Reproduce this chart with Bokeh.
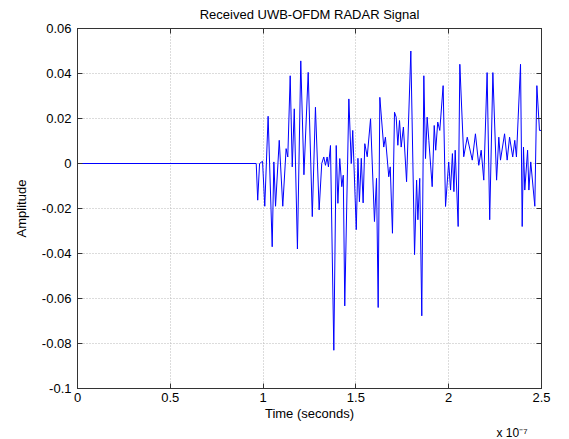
from bokeh.plotting import figure
from bokeh.models import (Range1d, FixedTicker, LinearAxis, Title,
                          CustomJSTickFormatter)
from bokeh.embed import file_html
from bokeh.resources import INLINE

# ---- data (time in units of 1e-7 s, amplitude) ----
time_e7 = [0.0, 0.963, 0.971, 0.981, 0.997, 1.009, 1.027, 1.049, 1.058, 1.067,
           1.087, 1.106, 1.124, 1.133, 1.146, 1.157, 1.168, 1.185, 1.203, 1.220,
           1.243, 1.265, 1.282, 1.302, 1.316, 1.327, 1.336, 1.345, 1.352, 1.363,
           1.381, 1.394, 1.403, 1.413, 1.424, 1.432, 1.440, 1.462, 1.475, 1.483,
           1.502, 1.511, 1.519, 1.529, 1.539, 1.548, 1.561, 1.579, 1.600, 1.611,
           1.620, 1.629, 1.650, 1.659, 1.677, 1.685, 1.697, 1.708, 1.717, 1.726,
           1.735, 1.744, 1.756, 1.773, 1.796, 1.816, 1.827, 1.834, 1.844, 1.855,
           1.866, 1.875, 1.884, 1.893, 1.911, 1.922, 1.930, 1.941, 1.952, 1.970,
           1.983, 2.000, 2.010, 2.020, 2.028, 2.035, 2.051, 2.060, 2.081, 2.100,
           2.127, 2.144, 2.162, 2.175, 2.189, 2.207, 2.221, 2.238, 2.258, 2.270,
           2.279, 2.301, 2.315, 2.328, 2.345, 2.356, 2.365, 2.387, 2.396, 2.403,
           2.410, 2.425, 2.432, 2.442, 2.464, 2.475, 2.489, 2.500]
amplitude = [0.0, 0.0, -0.0163, 0.0, 0.001, -0.019, 0.021, -0.037, 0.0007, -0.019,
             0.0103, -0.019, 0.0066, 0.0029, 0.039, -0.0015, 0.0243, -0.038, 0.0456, -0.005,
             0.0405, -0.0236, 0.025, -0.0206, 0.0, 0.0029, -0.0008, 0.0029, -0.0015, 0.008,
             -0.083, 0.008, -0.0177, 0.0022, -0.0103, -0.0052, -0.0633, 0.0287, 0.0, 0.0147,
             -0.0294, 0.0023, -0.017, 0.0023, -0.0175, 0.0088, 0.003, 0.0199, -0.0258, -0.0066,
             -0.064, 0.0294, 0.0073, 0.0117, -0.0059, -0.0015, -0.031, 0.0228, 0.0206, 0.0081,
             0.0191, 0.0073, 0.0162, -0.0081, 0.050, -0.0405, -0.0074, -0.025, -0.0066, -0.0677,
             0.039, 0.0022, 0.0206, 0.0103, -0.0103, 0.0169, 0.0059, 0.0184, 0.0147, 0.0346,
             -0.0191, 0.0007, -0.0118, 0.0044, -0.0125, 0.0059, -0.028, 0.0441, 0.003, 0.0117,
             0.0015, 0.0132, -0.0008, 0.0059, -0.0074, 0.0404, -0.025, 0.0404, -0.0074, 0.0117,
             0.0015, 0.0132, 0.0015, 0.0117, 0.0029, 0.0103, 0.0029, 0.0441, -0.028, 0.0073,
             -0.0118, 0.0059, -0.0118, 0.0007, -0.019, 0.0346, 0.0147, 0.0147]

x_ticks = [0, 0.5, 1, 1.5, 2, 2.5]
y_ticks = [-0.1, -0.08, -0.06, -0.04, -0.02, 0, 0.02, 0.04, 0.06]

FONT = "Liberation Sans"
FS = "13px"

p = figure(width=569, height=439, output_backend="svg", toolbar_location=None,
           x_range=Range1d(0, 2.5), y_range=Range1d(-0.1, 0.06),
           min_border_left=77, min_border_right=28, min_border_top=28,
           min_border_bottom=49, background_fill_color="white",
           border_fill_color="white")

p.title = Title(text="Received UWB-OFDM RADAR Signal", align="center",
                vertical_align="top",
                text_font=FONT, text_font_size=FS, text_font_style="normal",
                text_color="black", standoff=9)

p.line(time_e7, amplitude, line_color="#0000ff", line_width=1)

fmt = CustomJSTickFormatter(code="return String(Math.round(tick*100)/100);")
blank = CustomJSTickFormatter(code="return '';")

for ax in (p.xaxis[0], p.yaxis[0]):
    ax.major_label_text_font = FONT
    ax.major_label_text_font_size = FS
    ax.major_label_text_color = "black"
    ax.axis_label_text_font = FONT
    ax.axis_label_text_font_size = FS
    ax.axis_label_text_font_style = "normal"
    ax.axis_label_text_color = "black"
    ax.major_tick_in = 5
    ax.major_tick_out = 0
    ax.minor_tick_in = 0
    ax.minor_tick_out = 0
    ax.axis_line_color = "#333333"
    ax.major_tick_line_color = "#333333"
    ax.formatter = fmt

p.xaxis.ticker = FixedTicker(ticks=x_ticks)
p.yaxis.ticker = FixedTicker(ticks=y_ticks)
p.xaxis.axis_label = "Time (seconds)"
p.yaxis.axis_label = "Amplitude"
p.xaxis.major_label_standoff = 4
p.xaxis.axis_label_standoff = 1
p.yaxis.major_label_standoff = 6
p.yaxis.axis_label_standoff = 10

# box axes (top / right) with inward ticks, no labels
top = LinearAxis(ticker=FixedTicker(ticks=x_ticks), formatter=blank,
                 major_tick_in=5, major_tick_out=0, minor_tick_in=0, minor_tick_out=0,
                 major_label_standoff=0, axis_line_color="#333333",
                 major_tick_line_color="#333333")
right = LinearAxis(ticker=FixedTicker(ticks=y_ticks), formatter=blank,
                   major_tick_in=5, major_tick_out=0, minor_tick_in=0, minor_tick_out=0,
                   major_label_standoff=0, axis_line_color="#333333",
                   major_tick_line_color="#333333")
p.add_layout(top, "above")
p.add_layout(right, "right")

p.xgrid.grid_line_color = "#b8b8b8"
p.xgrid.grid_line_dash = "1 2"
p.ygrid.grid_line_color = "#b8b8b8"
p.ygrid.grid_line_dash = "1 2"
p.outline_line_color = "#333333"

# exponent note under the x axis
p.add_layout(Title(text="x 10\u207b\u2077", align="right", text_font=FONT,
                   text_font_size="12px", text_font_style="normal",
                   text_color="black", standoff=0, offset=14), "below")

open("out.html", "w").write(file_html(p, INLINE))
